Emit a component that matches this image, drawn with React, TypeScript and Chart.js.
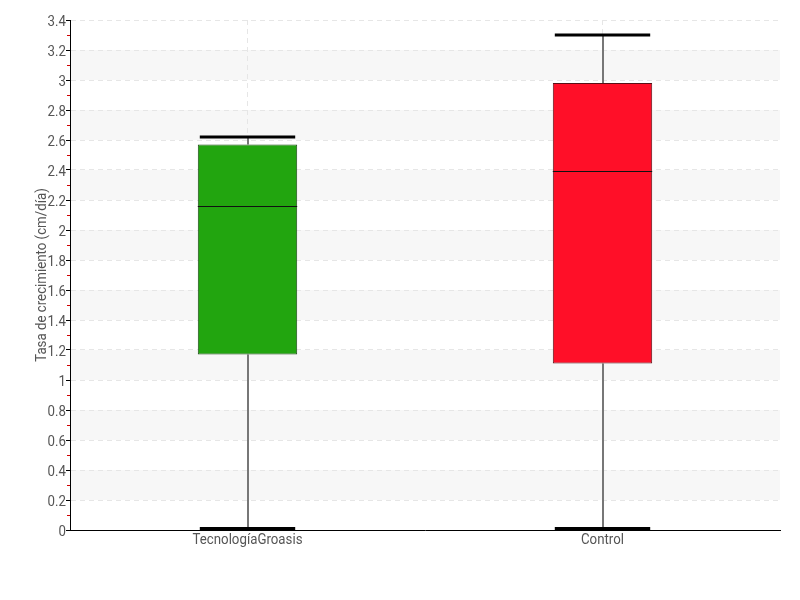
import React, { useEffect, useRef } from "react";
import { Chart, registerables } from "chart.js";

Chart.register(...registerables);

const categories = ["TecnologíaGroasis", "Control"];
const whiskerMin = [0, 0];
const q1 = [1.17, 1.11];
const median = [2.16, 2.39];
const q3 = [2.57, 2.98];
const whiskerMax = [2.62, 3.3];
const boxColors = ["#22a50f", "#ff0f28"];
const boxBorders = ["#1c4a16", "#5a1016"];
const yTitle = "Tasa de crecimiento (cm/día)";
const yMax = 3.4;
const yStep = 0.2;

const FONT = "15px Roboto, 'DejaVu Sans', sans-serif";
const TEXT_COLOR = "#555555";

function drawText(ctx: any, text: string, x: number, y: number, align: string, sx: number) {
  ctx.save();
  ctx.translate(x, y);
  ctx.scale(sx, 1);
  ctx.textAlign = align;
  ctx.textBaseline = "alphabetic";
  ctx.fillText(text, 0, 0);
  ctx.restore();
}

const boxPlugin = {
  id: "boxExtras",
  beforeDraw(chart: any) {
    const { ctx, chartArea, scales } = chart;
    const y = scales.y;
    ctx.save();
    ctx.fillStyle = "#f7f7f7";
    const n = Math.round(yMax / yStep);
    for (let k = 1; k < n; k += 2) {
      const top = y.getPixelForValue((k + 1) * yStep);
      const bot = y.getPixelForValue(k * yStep);
      ctx.fillRect(chartArea.left, top, chartArea.right - chartArea.left, bot - top);
    }
    ctx.restore();
  },
  beforeDatasetsDraw(chart: any) {
    const { ctx, scales } = chart;
    const x = scales.x;
    const y = scales.y;
    ctx.save();
    ctx.strokeStyle = "#777777";
    ctx.lineWidth = 2;
    categories.forEach((_, i) => {
      const cx = Math.round(x.getPixelForValue(i));
      ctx.beginPath();
      ctx.moveTo(cx, y.getPixelForValue(q3[i]));
      ctx.lineTo(cx, y.getPixelForValue(whiskerMax[i]));
      ctx.moveTo(cx, y.getPixelForValue(q1[i]));
      ctx.lineTo(cx, y.getPixelForValue(whiskerMin[i]));
      ctx.stroke();
    });
    ctx.restore();
  },
  afterDatasetsDraw(chart: any) {
    const { ctx, scales } = chart;
    const x = scales.x;
    const y = scales.y;
    const meta = chart.getDatasetMeta(0);
    ctx.save();
    categories.forEach((_, i) => {
      const bar = meta.data[i];
      const half = bar.width / 2;
      const cx = x.getPixelForValue(i);
      ctx.strokeStyle = "#111111";
      ctx.lineWidth = 1;
      const my = Math.round(y.getPixelForValue(median[i])) + 0.5;
      ctx.beginPath();
      ctx.moveTo(cx - half, my);
      ctx.lineTo(cx + half, my);
      ctx.stroke();
      ctx.strokeStyle = "#000000";
      ctx.lineWidth = 3;
      const capHalf = half - 2;
      [whiskerMax[i], whiskerMin[i]].forEach((v) => {
        let py = y.getPixelForValue(v);
        if (v === 0) py -= 1.5;
        ctx.beginPath();
        ctx.moveTo(cx - capHalf, py);
        ctx.lineTo(cx + capHalf, py);
        ctx.stroke();
      });
    });
    ctx.restore();
  },
  afterDraw(chart: any) {
    const { ctx, chartArea, scales } = chart;
    const x = scales.x;
    const y = scales.y;
    ctx.save();
    // minor ticks
    ctx.strokeStyle = "#d00000";
    ctx.lineWidth = 1;
    const n = Math.round(yMax / yStep);
    for (let k = 0; k < n; k++) {
      const py = Math.round(y.getPixelForValue((k + 0.5) * yStep)) + 0.5;
      ctx.beginPath();
      ctx.moveTo(chartArea.left - 3, py);
      ctx.lineTo(chartArea.left, py);
      ctx.stroke();
    }
    // text
    ctx.font = FONT;
    ctx.fillStyle = TEXT_COLOR;
    const sx = 110 / ctx.measureText(categories[0]).width;
    y.ticks.forEach((t: any) => {
      const py = y.getPixelForValue(t.value);
      const label = String(Math.round(t.value * 10) / 10);
      drawText(ctx, label, chartArea.left - 4, py + 5.5, "right", sx);
    });
    categories.forEach((c, i) => {
      drawText(ctx, c, x.getPixelForValue(i), chartArea.bottom + 14, "center", sx);
    });
    ctx.save();
    ctx.translate(46, (chartArea.top + chartArea.bottom) / 2);
    ctx.rotate(-Math.PI / 2);
    drawText(ctx, yTitle, 0, 0, "center", sx);
    ctx.restore();
    ctx.restore();
  },
};

export default function App() {
  const ref = useRef<HTMLCanvasElement>(null);
  useEffect(() => {
    if (!ref.current) return;
    const chart = new Chart(ref.current, {
      type: "bar",
      data: {
        labels: categories,
        datasets: [
          {
            data: categories.map((_, i) => [q1[i], q3[i]]) as any,
            backgroundColor: boxColors,
            borderColor: boxBorders,
            borderWidth: 1,
            borderSkipped: false,
            barPercentage: 0.28,
            categoryPercentage: 1,
          },
        ],
      },
      options: {
        animation: false,
        responsive: false,
        layout: { padding: { left: 0, top: 20, right: 20, bottom: 0 } },
        plugins: { legend: { display: false }, tooltip: { enabled: false } },
        scales: {
          x: {
            offset: true,
            grid: {
              offset: false,
              color: "#e6e6e6",
              drawTicks: false,
            },
            border: { display: true, color: "#000000", width: 1, dash: [5, 4] },
            ticks: { display: false },
            afterFit: (s: any) => {
              s.height = 70;
            },
          },
          y: {
            min: 0,
            max: yMax,
            ticks: { stepSize: yStep, display: false },
            grid: {
              color: "#e6e6e6",
              tickColor: "#000000",
              tickLength: 4,
              tickBorderDash: [],
            },
            border: { display: true, color: "#000000", width: 1, dash: [5, 4] },
            title: { display: false, text: yTitle },
            afterFit: (s: any) => {
              s.width = 70;
            },
          },
        },
      },
      plugins: [boxPlugin],
    });
    return () => chart.destroy();
  }, []);
  return (
    <div style={{ position: "absolute", left: 0, top: 0, width: 800, height: 600 }}>
      <canvas ref={ref} width={800} height={600} />
    </div>
  );
}
